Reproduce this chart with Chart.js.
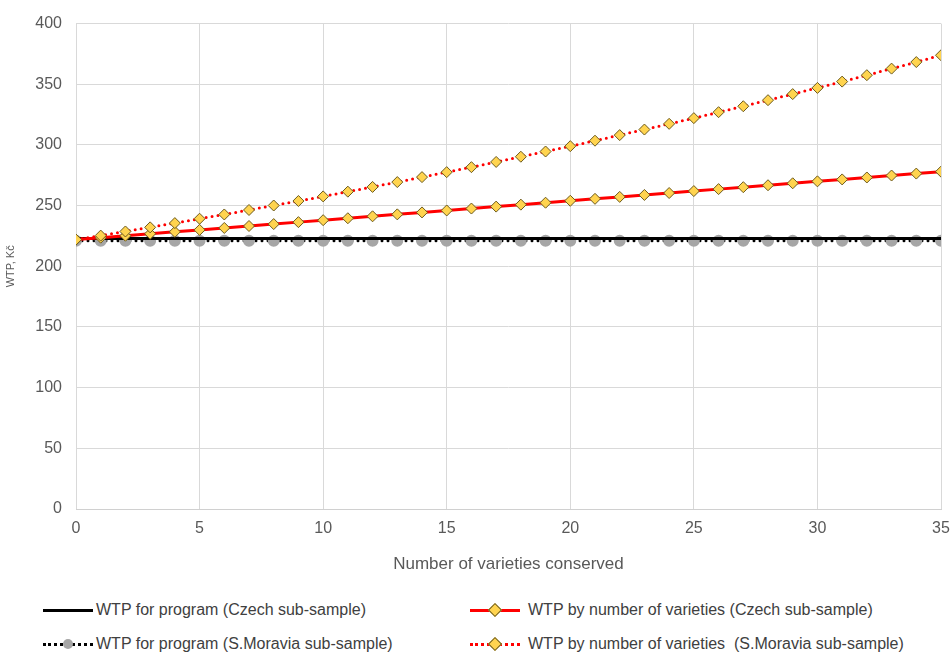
<!DOCTYPE html>
<html>
<head>
<meta charset="utf-8">
<script src="https://cdn.jsdelivr.net/npm/chart.js@4"></script>
<style>
  body { margin: 0; background: #fff; }
  #wrap { position: relative; width: 952px; height: 653px; }
  #chart { position: absolute; left: 0; top: 0; }
  .leg { position: absolute; height: 20px; font-family: "Liberation Sans", Arial, sans-serif; font-size: 16px; line-height: 20px; color: #404040; white-space: nowrap; }
  .sw { position: absolute; left: 0; top: 0; width: 50px; height: 20px; }
  .ln { position: absolute; left: 0; top: 9px; width: 50px; height: 0; }
  .solid { border-top: 3px solid; }
  .dots { border-top: 3px dotted; }
  .dia { position: absolute; left: 20px; top: 5px; width: 8px; height: 8px; background: #ffd44f; border: 1px solid #6b5a1e; transform: rotate(45deg); }
  .dot { position: absolute; left: 20px; top: 5px; width: 10px; height: 10px; border-radius: 50%; background: #a6a6a6; }
  .txt { position: absolute; left: 53px; top: 0; }
</style>
</head>
<body>
<div id="wrap">
  <canvas id="chart" width="952" height="579"></canvas>
  <div class="leg" style="left:43px; top:600px;">
    <div class="sw"><div class="ln solid" style="border-color:#000"></div></div>
    <span class="txt">WTP for program (Czech sub-sample)</span>
  </div>
  <div class="leg" style="left:470px; top:600px;">
    <div class="sw"><div class="ln solid" style="border-color:#f00"></div><div class="dia"></div></div>
    <span class="txt" style="left:58px">WTP by number of varieties (Czech sub-sample)</span>
  </div>
  <div class="leg" style="left:43px; top:634px;">
    <div class="sw"><div class="ln dots" style="border-color:#000"></div><div class="dot"></div></div>
    <span class="txt">WTP for program (S.Moravia sub-sample)</span>
  </div>
  <div class="leg" style="left:470px; top:634px;">
    <div class="sw"><div class="ln dots" style="border-color:#f00"></div><div class="dia"></div></div>
    <span class="txt" style="left:58px">WTP by number of varieties&nbsp; (S.Moravia sub-sample)</span>
  </div>
</div>
<script>
// number of varieties conserved
var varieties = [0, 1, 2, 3, 4, 5, 6, 7, 8, 9, 10, 11, 12, 13, 14, 15, 16, 17, 18, 19, 20,
                 21, 22, 23, 24, 25, 26, 27, 28, 29, 30, 31, 32, 33, 34, 35];

// WTP, Kč
var programCzech = [223, 223, 223, 223, 223, 223, 223, 223, 223, 223, 223, 223, 223, 223, 223, 223, 223, 223,
                    223, 223, 223, 223, 223, 223, 223, 223, 223, 223, 223, 223, 223, 223, 223, 223, 223, 223];
var programMoravia = [221, 221, 221, 221, 221, 221, 221, 221, 221, 221, 221, 221, 221, 221, 221, 221, 221, 221,
                      221, 221, 221, 221, 221, 221, 221, 221, 221, 221, 221, 221, 221, 221, 221, 221, 221, 221];
var varietiesCzech = [222, 223.6, 225.2, 226.8, 228.4, 230, 231.6, 233.2, 234.8, 236.4, 238, 239.6, 241.2,
                      242.8, 244.4, 246, 247.6, 249.2, 250.8, 252.4, 254, 255.6, 257.2, 258.8, 260.4, 262,
                      263.6, 265.2, 266.8, 268.4, 270, 271.6, 273.2, 274.8, 276.4, 278];
var varietiesMoravia = [222, 225.3, 228.7, 232.1, 235.6, 239.2, 242.7, 246.4, 250.1, 253.8, 257.6, 261.5,
                        265.4, 269.4, 273.5, 277.6, 281.7, 286, 290.3, 294.6, 299, 303.5, 308.1, 312.7,
                        317.4, 322.1, 327, 331.9, 336.9, 341.9, 347, 352.2, 357.5, 362.9, 368.3, 373.9];

var xTicks = [0, 5, 10, 15, 20, 25, 30, 35];
var yTicks = [0, 50, 100, 150, 200, 250, 300, 350, 400];

function pts(values) {
    return varieties.map(function (v, i) { return { x: v, y: values[i] }; });
}

var tickFont = { family: "'Liberation Sans', Arial, sans-serif", size: 16 };

new Chart(document.getElementById('chart'), {
    type: 'line',
    data: {
        datasets: [
            {
                label: 'WTP for program (S.Moravia sub-sample)',
                data: pts(programMoravia),
                borderColor: '#000',
                borderWidth: 3,
                borderDash: [0, 6],
                borderCapStyle: 'round',
                pointStyle: 'circle',
                pointRadius: 4.5,
                pointBackgroundColor: '#a6a6a6',
                pointBorderColor: '#a6a6a6',
                order: 4
            },
            {
                label: 'WTP for program (Czech sub-sample)',
                data: pts(programCzech),
                borderColor: '#000',
                borderWidth: 3,
                pointRadius: 0,
                order: 3
            },
            {
                label: 'WTP by number of varieties (Czech sub-sample)',
                data: pts(varietiesCzech),
                borderColor: '#ff0000',
                borderWidth: 3,
                pointStyle: 'rectRot',
                pointRadius: 5.5,
                pointBackgroundColor: '#ffd44f',
                pointBorderColor: '#6b5a1e',
                pointBorderWidth: 1,
                order: 2
            },
            {
                label: 'WTP by number of varieties  (S.Moravia sub-sample)',
                data: pts(varietiesMoravia),
                borderColor: '#ff0000',
                borderWidth: 3,
                borderDash: [0, 6],
                borderCapStyle: 'round',
                pointStyle: 'rectRot',
                pointRadius: 5.5,
                pointBackgroundColor: '#ffd44f',
                pointBorderColor: '#6b5a1e',
                pointBorderWidth: 1,
                order: 1
            }
        ]
    },
    options: {
        responsive: false,
        animation: false,
        layout: { padding: { left: 0, right: 11, top: 12, bottom: 0 } },
        plugins: {
            legend: { display: false },
            tooltip: { enabled: false }
        },
        scales: {
            x: {
                type: 'linear',
                min: 0,
                max: 35,
                afterBuildTicks: function (s) { s.ticks = xTicks.map(function (v) { return { value: v }; }); },
                afterFit: function (s) { s.height = 70; s.paddingRight = 0; s.paddingLeft = 0; },
                grid: { color: '#d9d9d9', drawTicks: false },
                border: { color: '#d0d0d0' },
                ticks: { color: '#595959', font: tickFont, padding: 10 },
                title: {
                    display: true,
                    text: 'Number of varieties conserved',
                    color: '#595959',
                    font: { family: "'Liberation Sans', Arial, sans-serif", size: 17 },
                    padding: { top: 2 }
                }
            },
            y: {
                min: 0,
                max: 400,
                afterBuildTicks: function (s) { s.ticks = yTicks.map(function (v) { return { value: v }; }); },
                afterFit: function (s) { s.width = 76; },
                grid: { color: '#d9d9d9', drawTicks: false },
                border: { display: false },
                ticks: { color: '#595959', font: tickFont, padding: 14 },
                title: {
                    display: true,
                    text: 'WTP, Kč',
                    color: '#595959',
                    font: { family: "'Liberation Sans', Arial, sans-serif", size: 11 },
                    padding: { bottom: 4 }
                }
            }
        }
    }
});
</script>
</body>
</html>
